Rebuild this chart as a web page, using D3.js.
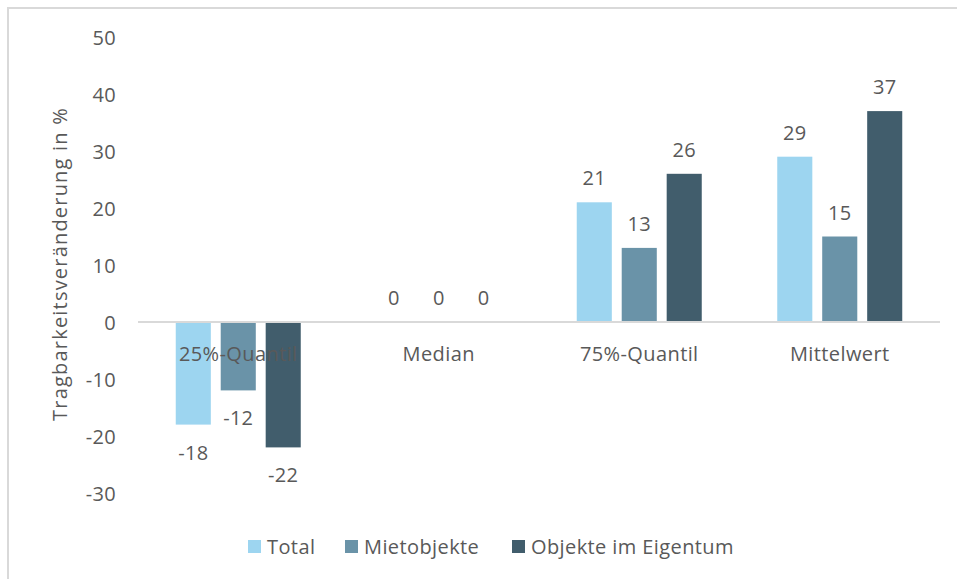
<!DOCTYPE html>
<html>
<head>
<meta charset="utf-8">
<script src="https://cdn.jsdelivr.net/npm/d3@7"></script>
<style>
  html, body { margin: 0; padding: 0; background: #fff; }
  svg { display: block; }
  text { font-family: "Open Sans", Lato, sans-serif; fill: #595959; }
</style>
</head>
<body>
<svg id="chart" width="957" height="579"></svg>
<script>
// Categories and series
const categories = ["25%-Quantil", "Median", "75%-Quantil", "Mittelwert"];
const seriesNames = ["Total", "Mietobjekte", "Objekte im Eigentum"];
const seriesColors = ["#9dd5f0", "#6a93a8", "#415d6c"];

// Values per series, in category order
const total = [-18, 0, 21, 29];
const mietobjekte = [-12, 0, 13, 15];
const eigentum = [-22, 0, 26, 37];

const yTicks = [-30, -20, -10, 0, 10, 20, 30, 40, 50];
const yTitle = "Tragbarkeitsveränderung in %";

const seriesValues = [total, mietobjekte, eigentum];

const svg = d3.select("#chart");
const W = 957, H = 579;

// Outer frame (left and top edges visible)
svg.append("rect")
  .attr("x", 8).attr("y", 8)
  .attr("width", W + 20).attr("height", H + 20)
  .attr("fill", "none")
  .attr("stroke", "#d9d9d9")
  .attr("stroke-width", 2);

const plot = { left: 138, right: 940, top: 37, bottom: 493 };

const x0 = d3.scaleBand()
  .domain(categories)
  .range([plot.left, plot.right])
  .padding(0);

const groupWidth = 125;
const x1 = d3.scaleBand()
  .domain(seriesNames)
  .range([0, groupWidth])
  .paddingInner(0.22);

const y = d3.scaleLinear()
  .domain([-30, 50])
  .range([plot.bottom, plot.top]);

// Y axis labels (no axis line, no tick marks)
const yAxis = d3.axisLeft(y)
  .tickValues(yTicks)
  .tickFormat(d => String(d))
  .tickSize(0)
  .tickPadding(0);
const yg = svg.append("g")
  .attr("transform", `translate(116,0)`)
  .call(yAxis);
yg.select(".domain").remove();
yg.selectAll("text")
  .attr("font-size", 20)
  .attr("font-family", "'Open Sans', sans-serif")
  .attr("fill", "#595959")
  .attr("letter-spacing", 0.3)
  .attr("dy", "0.35em");

// Y axis title
svg.append("text")
  .attr("transform", `translate(60,264) rotate(-90)`)
  .attr("text-anchor", "middle")
  .attr("dy", "0.35em")
  .attr("font-size", 20)
  .attr("letter-spacing", 1.2)
  .text(yTitle);

// Bars
const rows = [];
categories.forEach((c, i) => {
  seriesNames.forEach((s, j) => {
    rows.push({ cat: c, series: s, value: seriesValues[j][i], color: seriesColors[j] });
  });
});

const groupOffset = (x0.bandwidth() - groupWidth) / 2;

svg.append("g").selectAll("rect")
  .data(rows)
  .join("rect")
  .attr("x", d => x0(d.cat) + groupOffset + x1(d.series))
  .attr("width", x1.bandwidth())
  .attr("y", d => y(Math.max(0, d.value)))
  .attr("height", d => Math.abs(y(d.value) - y(0)))
  .attr("fill", d => d.color);

// Zero baseline
svg.append("line")
  .attr("x1", plot.left).attr("x2", plot.right)
  .attr("y1", y(0)).attr("y2", y(0))
  .attr("stroke", "#d9d9d9")
  .attr("stroke-width", 2);

// Category labels just below the baseline
svg.append("g").selectAll("text")
  .data(categories)
  .join("text")
  .attr("x", d => x0(d) + x0.bandwidth() / 2)
  .attr("y", y(0) + 39)
  .attr("text-anchor", "middle")
  .attr("font-size", 20)
  .attr("letter-spacing", 0.4)
  .text(d => d);

// Value labels
svg.append("g").selectAll("text")
  .data(rows)
  .join("text")
  .attr("x", d => x0(d.cat) + groupOffset + x1(d.series) + x1.bandwidth() / 2)
  .attr("y", d => d.value < 0 ? y(d.value) + 28 : y(d.value) - 24)
  .attr("dy", "0.35em")
  .attr("text-anchor", "middle")
  .attr("font-size", 20)
  .attr("letter-spacing", 0.3)
  .attr("fill", "#404040")
  .text(d => d.value);

// Legend
const legendX = [248, 345, 512];
const lg = svg.append("g");
seriesNames.forEach((s, i) => {
  lg.append("rect")
    .attr("x", legendX[i]).attr("y", 540)
    .attr("width", 13).attr("height", 13)
    .attr("fill", seriesColors[i]);
  lg.append("text")
    .attr("x", legendX[i] + 19).attr("y", 547)
    .attr("dy", "0.35em")
    .attr("font-size", 20)
    .attr("letter-spacing", 0.4)
    .text(s);
});
</script>
</body>
</html>
